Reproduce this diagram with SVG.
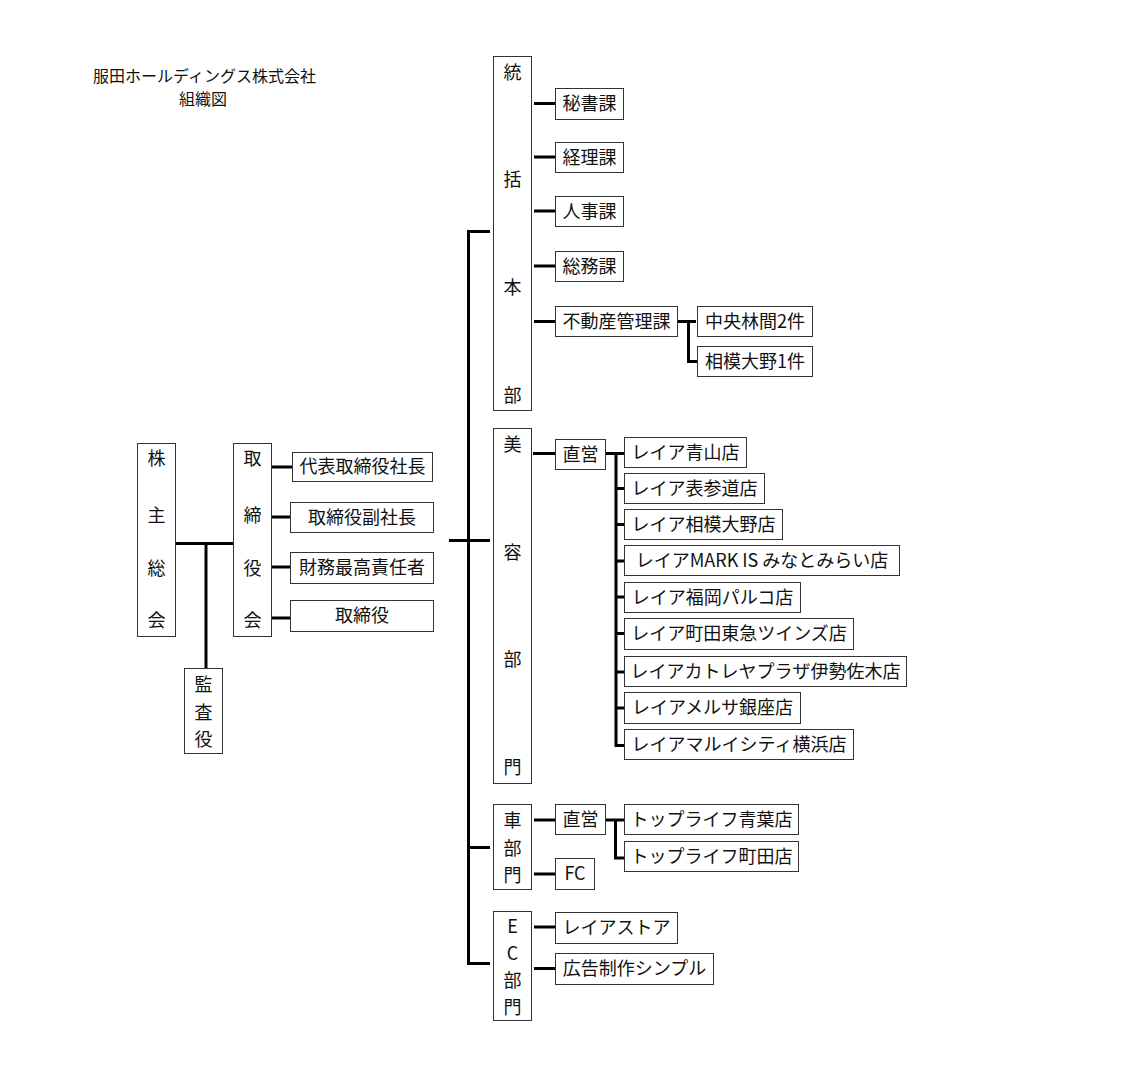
<svg xmlns="http://www.w3.org/2000/svg" width="1130" height="1082" viewBox="0 0 1130 1082">
<style>
  .bx { fill: #ffffff; stroke: #333333; stroke-width: 1; }
  .t { font-family: "Noto Sans CJK JP", "Noto Sans", sans-serif; font-size: 18px; fill: #111111; text-anchor: middle; dominant-baseline: central; }
  .ti { font-family: "Noto Sans CJK JP", "Noto Sans", sans-serif; font-size: 16px; fill: #111111; text-anchor: middle; dominant-baseline: central; }
  .c { fill: none; stroke: #000000; stroke-width: 3; stroke-linecap: butt; stroke-linejoin: miter; }
</style>
<rect width="1130" height="1082" fill="#ffffff"/>

<g id="title">
  <text class="ti" x="204.5" y="74.5">服田ホールディングス株式会社</text>
  <text class="ti" x="203" y="97.5">組織図</text>
</g>

<g id="connectors">
  <path class="c" d="M176,543.5 H233"/>
  <path class="c" d="M206,543.5 V668"/>
  <path class="c" d="M272,467 H292 M272,517 H290 M272,567 H290 M272,618 H290"/>
  <path class="c" d="M449,540.5 H490"/>
  <path class="c" d="M490,231.5 H468.5 V963.5 H490"/>
  <path class="c" d="M468.5,847.5 H490"/>
  <path class="c" d="M534,103.5 H555 M534,157 H555 M534,211 H555 M534,266 H555 M534,321.5 H555"/>
  <path class="c" d="M678,321.5 H696 M688.5,321.5 V361.5 H697"/>
  <path class="c" d="M533,453.5 H555 M606,453.5 H624 M616,453.5 V745.5 H624"/>
  <path class="c" d="M616,488.5 H624 M616,524.5 H624 M616,561 H624 M616,597 H624 M616,633.5 H624 M616,672 H624 M616,708 H624"/>
  <path class="c" d="M534,820 H555 M606,820 H624 M615.5,820 V858 H624 M534,874 H555"/>
  <path class="c" d="M534,927 H555 M534,968.5 H555"/>
</g>

<g id="n-kabunushi">
  <rect class="bx" x="137.5" y="443.5" width="38" height="193"/>
  <text class="t" x="156.5" y="457">株</text>
  <text class="t" x="156.5" y="514">主</text>
  <text class="t" x="156.5" y="567">総</text>
  <text class="t" x="156.5" y="619">会</text>
</g>
<g id="n-torishimariyakukai">
  <rect class="bx" x="233.5" y="443.5" width="38" height="193"/>
  <text class="t" x="252.5" y="457">取</text>
  <text class="t" x="252.5" y="514">締</text>
  <text class="t" x="252.5" y="567">役</text>
  <text class="t" x="252.5" y="619">会</text>
</g>
<g id="n-kansayaku">
  <rect class="bx" x="184.5" y="668.5" width="38" height="85"/>
  <text class="t" x="203.5" y="683">監</text>
  <text class="t" x="203.5" y="711">査</text>
  <text class="t" x="203.5" y="738">役</text>
</g>
<g id="n-daihyo">
  <rect class="bx" x="292.5" y="452.5" width="140" height="29"/>
  <text class="t" x="362.5" y="465">代表取締役社長</text>
</g>
<g id="n-fukushacho">
  <rect class="bx" x="290.5" y="502.5" width="143" height="30"/>
  <text class="t" x="362" y="515.5">取締役副社長</text>
</g>
<g id="n-cfo">
  <rect class="bx" x="290.5" y="552.5" width="143" height="31"/>
  <text class="t" x="362" y="565.5">財務最高責任者</text>
</g>
<g id="n-torishimariyaku">
  <rect class="bx" x="290.5" y="600.5" width="143" height="31"/>
  <text class="t" x="362" y="614">取締役</text>
</g>

<g id="n-tokatsu">
  <rect class="bx" x="493.5" y="56.5" width="38" height="354"/>
  <text class="t" x="512.5" y="71">統</text>
  <text class="t" x="512.5" y="178">括</text>
  <text class="t" x="512.5" y="286">本</text>
  <text class="t" x="512.5" y="394">部</text>
</g>
<g id="n-hisho">
  <rect class="bx" x="555.5" y="88.5" width="68" height="31"/>
  <text class="t" x="589.5" y="102">秘書課</text>
</g>
<g id="n-keiri">
  <rect class="bx" x="555.5" y="142.5" width="68" height="30"/>
  <text class="t" x="589.5" y="155.5">経理課</text>
</g>
<g id="n-jinji">
  <rect class="bx" x="555.5" y="196.5" width="68" height="30"/>
  <text class="t" x="589.5" y="209.5">人事課</text>
</g>
<g id="n-somu">
  <rect class="bx" x="555.5" y="251.5" width="68" height="30"/>
  <text class="t" x="589.5" y="264.5">総務課</text>
</g>
<g id="n-fudosan">
  <rect class="bx" x="555.5" y="306.5" width="122" height="30"/>
  <text class="t" x="616.5" y="319.5">不動産管理課</text>
</g>
<g id="n-chuorinkan">
  <rect class="bx" x="697.5" y="306.5" width="115" height="30"/>
  <text class="t" x="755" y="319.5">中央林間2件</text>
</g>
<g id="n-sagamiono">
  <rect class="bx" x="697.5" y="346.5" width="115" height="30"/>
  <text class="t" x="755" y="359.5">相模大野1件</text>
</g>

<g id="n-biyo">
  <rect class="bx" x="493.5" y="428.5" width="38" height="355"/>
  <text class="t" x="512.5" y="443">美</text>
  <text class="t" x="512.5" y="551">容</text>
  <text class="t" x="512.5" y="658">部</text>
  <text class="t" x="512.5" y="766">門</text>
</g>
<g id="n-biyo-chokuei">
  <rect class="bx" x="555.5" y="439.5" width="50" height="30"/>
  <text class="t" x="580.5" y="452.5">直営</text>
</g>
<g id="n-aoyama">
  <rect class="bx" x="624.5" y="437.5" width="122" height="30"/>
  <text class="t" x="685.5" y="450.5">レイア青山店</text>
</g>
<g id="n-omotesando">
  <rect class="bx" x="624.5" y="473.5" width="140" height="30"/>
  <text class="t" x="694.5" y="486.5">レイア表参道店</text>
</g>
<g id="n-sagamiono-ten">
  <rect class="bx" x="624.5" y="509.5" width="158" height="30"/>
  <text class="t" x="703.5" y="522.5">レイア相模大野店</text>
</g>
<g id="n-markis">
  <rect class="bx" x="624.5" y="545.5" width="275" height="30"/>
  <text class="t" x="762" y="558.5">レイアMARK IS みなとみらい店</text>
</g>
<g id="n-fukuoka">
  <rect class="bx" x="624.5" y="582.5" width="176" height="30"/>
  <text class="t" x="712.5" y="595.5">レイア福岡パルコ店</text>
</g>
<g id="n-machida-tokyu">
  <rect class="bx" x="624.5" y="618.5" width="229" height="31"/>
  <text class="t" x="739" y="632">レイア町田東急ツインズ店</text>
</g>
<g id="n-cattleya">
  <rect class="bx" x="624.5" y="656.5" width="282" height="30"/>
  <text class="t" x="765.5" y="669.5">レイアカトレヤプラザ伊勢佐木店</text>
</g>
<g id="n-mersa">
  <rect class="bx" x="624.5" y="692.5" width="176" height="31"/>
  <text class="t" x="712.5" y="706">レイアメルサ銀座店</text>
</g>
<g id="n-marui">
  <rect class="bx" x="624.5" y="729.5" width="229" height="30"/>
  <text class="t" x="739" y="742.5">レイアマルイシティ横浜店</text>
</g>

<g id="n-kuruma">
  <rect class="bx" x="493.5" y="804.5" width="38" height="85"/>
  <text class="t" x="512.5" y="819">車</text>
  <text class="t" x="512.5" y="847">部</text>
  <text class="t" x="512.5" y="874">門</text>
</g>
<g id="n-kuruma-chokuei">
  <rect class="bx" x="555.5" y="804.5" width="50" height="30"/>
  <text class="t" x="580.5" y="817.5">直営</text>
</g>
<g id="n-aoba">
  <rect class="bx" x="624.5" y="804.5" width="174" height="30"/>
  <text class="t" x="711.5" y="817.5">トップライフ青葉店</text>
</g>
<g id="n-toplife-machida">
  <rect class="bx" x="624.5" y="841.5" width="174" height="30"/>
  <text class="t" x="711.5" y="854.5">トップライフ町田店</text>
</g>
<g id="n-fc">
  <rect class="bx" x="555.5" y="858.5" width="39" height="31"/>
  <text class="t" x="575" y="872">FC</text>
</g>

<g id="n-ec">
  <rect class="bx" x="493.5" y="911.5" width="38" height="109"/>
  <text class="t" x="512.5" y="925">E</text>
  <text class="t" x="512.5" y="952">C</text>
  <text class="t" x="512.5" y="979">部</text>
  <text class="t" x="512.5" y="1006">門</text>
</g>
<g id="n-reiastore">
  <rect class="bx" x="555.5" y="912.5" width="122" height="31"/>
  <text class="t" x="616.5" y="926">レイアストア</text>
</g>
<g id="n-simple">
  <rect class="bx" x="555.5" y="953.5" width="158" height="31"/>
  <text class="t" x="634.5" y="967">広告制作シンプル</text>
</g>
</svg>
